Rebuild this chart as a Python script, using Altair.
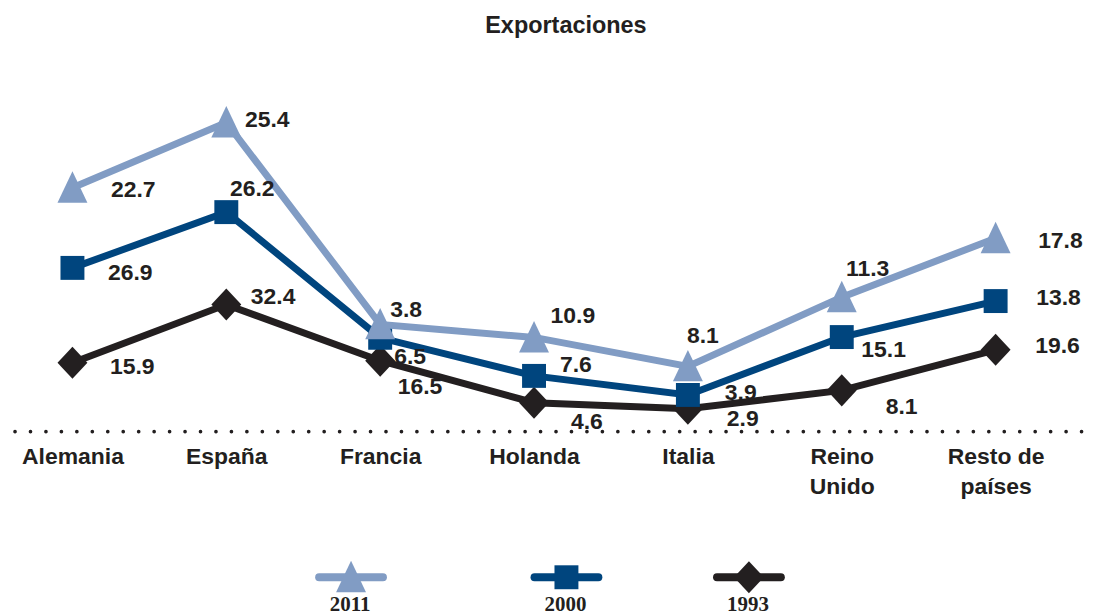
import altair as alt
import pandas as pd

countries = ["Alemania", "España", "Francia", "Holanda", "Italia", "Reino\nUnido", "Resto de\npaíses"]
series = ["1993", "2000", "2011"]
v1993 = [15.9, 32.4, 16.5, 4.6, 2.9, 8.1, 19.6]
v2000 = [26.9, 26.2, 6.5, 7.6, 3.9, 15.1, 13.8]
v2011 = [22.7, 25.4, 3.8, 10.9, 8.1, 11.3, 17.8]
values = {"1993": v1993, "2000": v2000, "2011": v2011}

# styling
colors = {"2011": "#819cc4", "2000": "#00457e", "1993": "#231f20"}
shapes = {"2011": "M0,-1.1L1,1L-1,1Z", "2000": "square", "1993": "M0,-1.07L1,0L0,1.07L-1,0Z"}
sizes = {"2011": 900, "2000": 576, "1993": 900}
# hand placement of value labels (pixel offsets from each marker), one per country
label_off = {
    "2011": [(61, 2), (41, -2), (26, -14), (39, -21), (15, -30), (26, -28), (65, 3)],
    "2000": [(58, 5), (26, -23), (30, 19), (42, -11), (53, -2), (42, 13), (63, -3)],
    "1993": [(60, 4), (47, -8), (40, 26), (53, 19), (55, 10), (60, 17), (62, -4)],
}
legend_order = ["2011", "2000", "1993"]
legend_cx = {"2011": 351, "2000": 567, "1993": 750}

rows = []
for r, s in enumerate(series):
    for i, c in enumerate(countries):
        rows.append({"country": c, "series": s, "value": values[s][i], "rank": r, "idx": i})
df = pd.DataFrame(rows)

W, H = 1043, 372
FONT = "Liberation Sans"
INK = "#231f20"

x_enc = alt.X("country:N", sort=countries,
              scale=alt.Scale(type="point", padding=0.38),
              axis=alt.Axis(title=None, domain=False, ticks=False, labelAngle=0,
                            labelFont=FONT, labelFontSize=23, labelFontWeight="bold",
                            labelColor=INK, labelPadding=14, labelLineHeight=30,
                            labelExpr="split(datum.label, '\\n')"))
y_enc = alt.Y("cum:Q", scale=alt.Scale(domain=[-3.6, 101.5], nice=False, zero=False), axis=None)

base = alt.Chart(df).transform_window(
    cum="sum(value)", groupby=["country"], sort=[alt.SortField("rank")], frame=[None, 0]
)

layers = []
# dotted baseline
layers.append(
    alt.Chart(pd.DataFrame({"a": [0]})).mark_rule(
        color=INK, strokeWidth=3.6, strokeDash=[0.1, 15.4], strokeCap="round"
    ).encode(x=alt.value(1), x2=alt.value(1072), y=alt.value(H))
)

for s in series:
    sub = base.transform_filter(alt.datum.series == s)
    layers.append(
        sub.mark_line(strokeWidth=7, color=colors[s]).encode(x=x_enc, y=y_enc, order=alt.Order("idx:Q"))
    )
    layers.append(
        sub.mark_point(filled=True, opacity=1, color=colors[s], shape=shapes[s], size=sizes[s]).encode(x=x_enc, y=y_enc)
    )

for s in series:
    for i, c in enumerate(countries):
        dx, dy = label_off[s][i]
        sub = base.transform_filter((alt.datum.series == s) & (alt.datum.idx == i))
        layers.append(
            sub.mark_text(font=FONT, fontSize=23, fontWeight="bold", color=INK, dx=dx, dy=dy,
                          align="center", baseline="middle").encode(
                x=x_enc, y=y_enc, text=alt.Text("value:Q", format=".1f"))
        )

# legend
for s in legend_order:
    cx = legend_cx[s] - 13
    one = alt.Chart(pd.DataFrame({"series": [s]}))
    layers.append(one.mark_rule(color=colors[s], strokeWidth=8, strokeCap="round").encode(
        x=alt.value(cx - 32), x2=alt.value(cx + 32), y=alt.value(518)))
    layers.append(one.mark_point(filled=True, opacity=1, color=colors[s], shape=shapes[s], size=sizes[s]).encode(
        x=alt.value(cx), y=alt.value(518)))
    layers.append(one.mark_text(font="Liberation Serif", fontSize=21, fontWeight="bold", color=INK,
                                baseline="middle").encode(
        x=alt.value(cx - 1), y=alt.value(546), text="series:N"))

chart = alt.layer(*layers).properties(
    width=W, height=H,
    padding={"left": 5, "top": 5, "right": 0, "bottom": 0},
    title=alt.TitleParams("Exportaciones", font=FONT, fontSize=23.5, fontWeight="bold",
                          color=INK, anchor="middle", dx=32, offset=23),
).configure_view(strokeWidth=0)

chart.save("out.html", embed_options={"renderer": "svg", "actions": False})
